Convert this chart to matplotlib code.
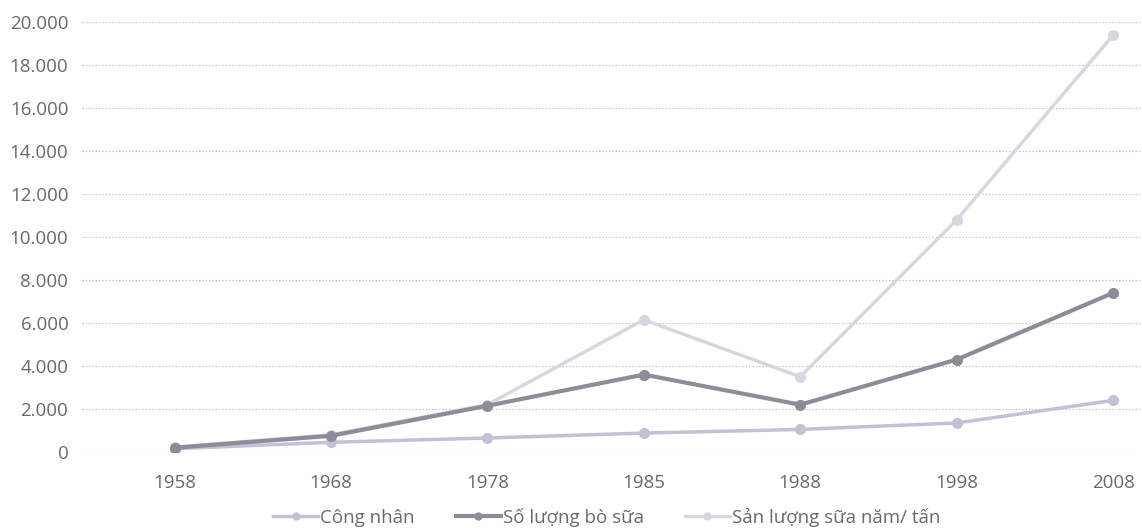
import matplotlib.pyplot as plt
from matplotlib.ticker import FuncFormatter

years = ['1958', '1968', '1978', '1985', '1988', '1998', '2008']
cong_nhan = [150, 450, 650, 880, 1050, 1350, 2400]
bo_sua = [200, 750, 2150, 3600, 2200, 4300, 7400]
san_luong = [220, 800, 2200, 6150, 3500, 10800, 19400]

labels = ['Công nhân', 'Số lượng bò sữa', 'Sản lượng sữa năm/ tấn']
colors = ['#c6c0d6', '#8e8c98', '#dad6df']

plt.rcParams['font.family'] = ['Open Sans', 'DejaVu Sans']

fig = plt.figure(figsize=(11.42, 5.28), dpi=100)
ax = fig.add_axes([0.072, 0.144, 0.926, 0.814])

x = range(len(years))
series = [cong_nhan, bo_sua, san_luong]
widths = [2.5, 3.0, 2.5]
zorders = [3, 4, 2]
for vals, lab, col, lw, z in zip(series, labels, colors, widths, zorders):
    ax.plot(x, vals, color=col, lw=lw, marker='o', ms=7, label=lab,
            markerfacecolor=col, markeredgecolor=col, zorder=z)

ax.set_ylim(0, 20000)
ax.set_yticks(range(0, 20001, 2000))
ax.yaxis.set_major_formatter(FuncFormatter(lambda v, p: f'{int(v):,}'.replace(',', '.')))
ax.set_xlim(-0.59, 6.17)
ax.set_xticks(list(x))
ax.set_xticklabels(years)

ax.grid(axis='y', linestyle=(0, (1, 2)), color='#b0b0b0', lw=0.8)
ax.set_axisbelow(True)
for s in ax.spines.values():
    s.set_visible(False)
ax.tick_params(axis='both', length=0, labelsize=13.5, colors='#6a6a6a')
ax.tick_params(axis='x', pad=16)
ax.tick_params(axis='y', pad=10)

leg = ax.legend(loc='center', bbox_to_anchor=(0.496, -0.152), ncol=3,
                frameon=False, fontsize=13.5, handlelength=2.4, handletextpad=0.1,
                columnspacing=2.2, labelcolor='#6a6a6a')
for h in leg.get_lines():
    h.set_markersize(5)

plt.savefig('out.png', dpi=100)
plt.close()
